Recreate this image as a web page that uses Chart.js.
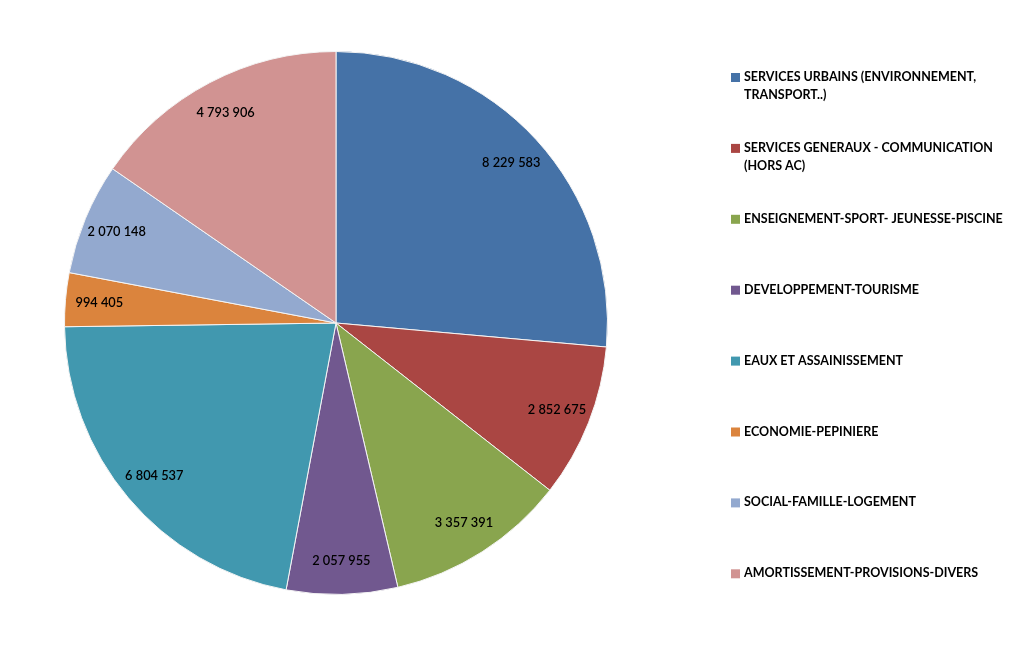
<!DOCTYPE html>
<html>
<head>
<meta charset="utf-8">
<script src="https://cdn.jsdelivr.net/npm/chart.js@4.4.1/dist/chart.umd.min.js"></script>
<style>
  html, body { margin: 0; padding: 0; background: #fff; }
  #wrap { width: 1027px; height: 649px; }
</style>
</head>
<body>
<div id="wrap"><canvas id="budgetPie"></canvas></div>
<script>
var categories = [
    ['SERVICES URBAINS (ENVIRONNEMENT,', 'TRANSPORT..)'],
    ['SERVICES GENERAUX - COMMUNICATION', '(HORS AC)'],
    ['ENSEIGNEMENT-SPORT- JEUNESSE-PISCINE'],
    ['DEVELOPPEMENT-TOURISME'],
    ['EAUX ET ASSAINISSEMENT'],
    ['ECONOMIE-PEPINIERE'],
    ['SOCIAL-FAMILLE-LOGEMENT'],
    ['AMORTISSEMENT-PROVISIONS-DIVERS'],
];
var amounts = [8229583, 2852675, 3357391, 2057955, 6804537, 994405, 2070148, 4793906];
var sliceColors = ['#4572A7', '#AA4643', '#89A54E', '#71588F', '#4198AF', '#DB843D', '#93A9CF', '#D19392'];

function formatAmount(v) {
    return String(v).replace(/\B(?=(\d{3})+(?!\d))/g, ' ');
}

// value labels inside the slices, near the outer edge
var sliceLabels = {
    id: 'sliceLabels',
    afterDatasetsDraw: function (chart) {
        var ctx = chart.ctx;
        var meta = chart.getDatasetMeta(0);
        ctx.save();
        ctx.font = '600 12.8px Lato';
        ctx.fillStyle = '#000';
        ctx.textAlign = 'center';
        ctx.textBaseline = 'middle';
        meta.data.forEach(function (arc, i) {
            var mid = (arc.startAngle + arc.endAngle) / 2;
            var r = arc.outerRadius * 0.875;
            ctx.fillText(formatAmount(amounts[i]), arc.x + Math.cos(mid) * r, arc.y + Math.sin(mid) * r);
        });
        ctx.restore();
    }
};

// legend on the right, labels can span two lines
var sideLegend = {
    id: 'sideLegend',
    afterDraw: function (chart) {
        var ctx = chart.ctx;
        ctx.save();
        ctx.font = 'bold 12.5px Lato';
        ctx.textBaseline = 'middle';
        ctx.textAlign = 'left';
        categories.forEach(function (lines, i) {
            var y = 77 + i * 70.9;
            ctx.fillStyle = sliceColors[i];
            ctx.fillRect(731, y - 4, 9, 9);
            ctx.fillStyle = '#000';
            lines.forEach(function (line, j) {
                ctx.fillText(line, 744, y + j * 18);
            });
        });
        ctx.restore();
    }
};

var ctx = document.getElementById('budgetPie');
new Chart(ctx, {
    type: 'pie',
    plugins: [sliceLabels, sideLegend],
    data: {
        labels: categories,
        datasets: [{
            data: amounts,
            backgroundColor: sliceColors,
            borderColor: '#f4f4f4',
            borderWidth: 1,
        }]
    },
    options: {
        responsive: true,
        maintainAspectRatio: false,
        animation: false,
        layout: {
            padding: { left: 64, right: 419, top: 51, bottom: 54 },
        },
        plugins: {
            legend: { display: false },
            tooltip: { enabled: false },
        },
    },
});
</script>
</body>
</html>
